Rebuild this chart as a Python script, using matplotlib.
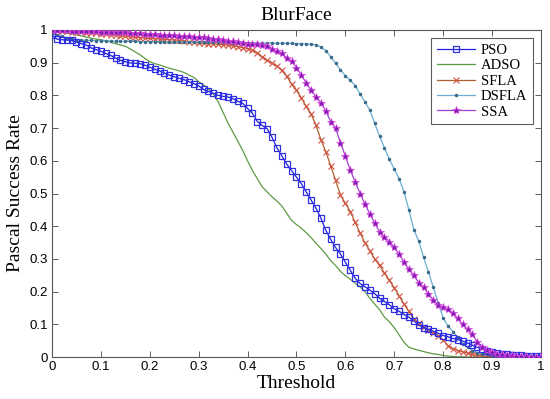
import matplotlib
matplotlib.use("Agg")
import matplotlib.pyplot as plt
import numpy as np

threshold = [round(i * 0.01, 2) for i in range(101)]

pso = [0.985, 0.972, 0.970, 0.969, 0.968, 0.963, 0.958, 0.954, 0.945, 0.940,
       0.935, 0.928, 0.922, 0.914, 0.907, 0.903, 0.899, 0.898, 0.897, 0.892,
       0.886, 0.880, 0.875, 0.868, 0.862, 0.857, 0.852, 0.848, 0.842, 0.836,
       0.829, 0.818, 0.812, 0.806, 0.800, 0.797, 0.795, 0.790, 0.782, 0.776,
       0.760, 0.745, 0.720, 0.708, 0.698, 0.672, 0.640, 0.615, 0.590, 0.570,
       0.550, 0.530, 0.505, 0.480, 0.455, 0.425, 0.388, 0.360, 0.335, 0.315,
       0.290, 0.266, 0.241, 0.225, 0.215, 0.205, 0.194, 0.180, 0.170, 0.160,
       0.148, 0.140, 0.130, 0.122, 0.111, 0.098, 0.090, 0.085, 0.079, 0.073,
       0.066, 0.062, 0.057, 0.053, 0.049, 0.043, 0.036, 0.030, 0.024, 0.019,
       0.015, 0.012, 0.010, 0.008, 0.007, 0.006, 0.005, 0.004, 0.004, 0.003,
       0.003]

adso = [1.000, 0.995, 0.992, 0.990, 0.988, 0.985, 0.982, 0.978, 0.975, 0.972,
        0.970, 0.967, 0.963, 0.958, 0.954, 0.950, 0.942, 0.933, 0.924, 0.913,
        0.903, 0.897, 0.893, 0.888, 0.883, 0.879, 0.875, 0.870, 0.862, 0.855,
        0.842, 0.832, 0.820, 0.805, 0.780, 0.748, 0.715, 0.688, 0.660, 0.632,
        0.600, 0.570, 0.545, 0.520, 0.505, 0.490, 0.477, 0.462, 0.440, 0.418,
        0.405, 0.394, 0.380, 0.365, 0.348, 0.332, 0.315, 0.295, 0.280, 0.262,
        0.249, 0.238, 0.226, 0.215, 0.200, 0.180, 0.162, 0.145, 0.122, 0.108,
        0.090, 0.068, 0.045, 0.030, 0.025, 0.021, 0.017, 0.013, 0.010, 0.008,
        0.005, 0.003, 0.002, 0.001, 0.001, 0.000, 0.000, 0.000, 0.000, 0.000,
        0.000, 0.000, 0.000, 0.000, 0.000, 0.000, 0.000, 0.000, 0.000, 0.000,
        0.000]

sfla = [1.000, 0.998, 0.997, 0.996, 0.995, 0.994, 0.993, 0.992, 0.991, 0.990,
        0.989, 0.988, 0.986, 0.984, 0.982, 0.980, 0.979, 0.977, 0.976, 0.975,
        0.974, 0.973, 0.972, 0.971, 0.970, 0.969, 0.968, 0.966, 0.964, 0.962,
        0.960, 0.959, 0.958, 0.957, 0.956, 0.955, 0.953, 0.951, 0.949, 0.946,
        0.943, 0.939, 0.930, 0.918, 0.907, 0.898, 0.890, 0.876, 0.858, 0.835,
        0.816, 0.792, 0.766, 0.743, 0.708, 0.665, 0.628, 0.585, 0.540, 0.495,
        0.470, 0.445, 0.412, 0.380, 0.350, 0.325, 0.300, 0.280, 0.257, 0.235,
        0.212, 0.187, 0.162, 0.140, 0.117, 0.104, 0.092, 0.082, 0.074, 0.066,
        0.052, 0.035, 0.026, 0.020, 0.016, 0.012, 0.008, 0.005, 0.003, 0.002,
        0.001, 0.000, 0.000, 0.000, 0.000, 0.000, 0.000, 0.000, 0.000, 0.000,
        0.000]

dsfla = [0.990, 0.985, 0.980, 0.975, 0.972, 0.970, 0.969, 0.968, 0.968, 0.967,
         0.967, 0.966, 0.966, 0.966, 0.965, 0.965, 0.965, 0.965, 0.964, 0.964,
         0.964, 0.964, 0.964, 0.964, 0.963, 0.963, 0.963, 0.963, 0.963, 0.963,
         0.963, 0.962, 0.962, 0.962, 0.962, 0.962, 0.962, 0.961, 0.961, 0.961,
         0.961, 0.961, 0.960, 0.960, 0.960, 0.960, 0.959, 0.959, 0.959, 0.959,
         0.958, 0.958, 0.957, 0.957, 0.954, 0.948, 0.937, 0.918, 0.898, 0.878,
         0.860, 0.846, 0.830, 0.805, 0.780, 0.755, 0.715, 0.675, 0.640, 0.605,
         0.575, 0.545, 0.505, 0.450, 0.390, 0.355, 0.305, 0.260, 0.213, 0.165,
         0.120, 0.095, 0.078, 0.060, 0.040, 0.030, 0.020, 0.014, 0.010, 0.008,
         0.006, 0.004, 0.003, 0.002, 0.001, 0.000, 0.000, 0.000, 0.000, 0.000,
         0.000]

ssa = [1.000, 1.000, 0.999, 0.999, 0.998, 0.998, 0.997, 0.997, 0.996, 0.996,
       0.995, 0.995, 0.994, 0.994, 0.993, 0.993, 0.992, 0.991, 0.990, 0.989,
       0.988, 0.987, 0.986, 0.985, 0.984, 0.983, 0.982, 0.981, 0.980, 0.979,
       0.978, 0.977, 0.975, 0.973, 0.971, 0.969, 0.967, 0.965, 0.962, 0.960,
       0.958, 0.957, 0.956, 0.955, 0.952, 0.942, 0.935, 0.928, 0.915, 0.905,
       0.885, 0.862, 0.838, 0.815, 0.795, 0.778, 0.752, 0.720, 0.700, 0.655,
       0.615, 0.572, 0.536, 0.500, 0.468, 0.438, 0.410, 0.383, 0.368, 0.353,
       0.335, 0.315, 0.290, 0.268, 0.250, 0.228, 0.214, 0.192, 0.175, 0.160,
       0.152, 0.146, 0.135, 0.118, 0.100, 0.085, 0.070, 0.045, 0.030, 0.022,
       0.015, 0.011, 0.008, 0.006, 0.005, 0.004, 0.003, 0.002, 0.001, 0.001,
       0.000]

tick_vals = [round(i * 0.1, 1) for i in range(11)]
tick_labels = ["0", "0.1", "0.2", "0.3", "0.4", "0.5", "0.6", "0.7", "0.8", "0.9", "1"]

serif = "Liberation Serif"
sans = "Liberation Sans"

fig = plt.figure(figsize=(5.5, 3.99), dpi=100)
ax = fig.add_axes([0.0945, 0.105, 0.889, 0.820])

ax.plot(threshold, pso, color="#2020e0", lw=0.9, marker="s", ms=4.2,
        mfc="none", mec="#3030e0", mew=0.9, label="PSO", zorder=3)
ax.plot(threshold, adso, color="#5e9a44", lw=0.9, label="ADSO", zorder=2)
ax.plot(threshold, sfla, color="#b0602c", lw=0.9, marker="x", ms=4,
        mec="#d05040", mew=0.8, label="SFLA", zorder=2)
ax.plot(threshold, dsfla, color="#6aaed0", lw=0.9, marker=".", ms=3,
        mfc="#3a6a8a", mec="#3a6a8a", label="DSFLA", zorder=2)
ax.plot(threshold, ssa, color="#a040d0", lw=0.9, marker="*", ms=6,
        mfc="#7a20b0", mec="#e040e0", mew=0.5, label="SSA", zorder=4)

ax.set_xlim(0, 1)
ax.set_ylim(0, 1)
ax.set_xticks(tick_vals)
ax.set_xticklabels(tick_labels, fontfamily=sans, fontsize=9.5)
ax.set_yticks(tick_vals)
ax.set_yticklabels(tick_labels, fontfamily=sans, fontsize=9.5)
ax.tick_params(direction="in", top=True, right=True, length=4, width=0.6,
               color="#444444", pad=3)
for s in ax.spines.values():
    s.set_linewidth(0.8)
    s.set_color("#555555")

ax.set_title("BlurFace", fontfamily=serif, fontsize=14, pad=7)
ax.set_xlabel("Threshold", fontfamily=serif, fontsize=14, labelpad=1)
ax.set_ylabel("Pascal Success Rate", fontfamily=serif, fontsize=14, labelpad=4)

leg = ax.legend(loc="upper right", prop={"family": serif, "size": 10.5},
                frameon=True, fancybox=False, edgecolor="#333333",
                borderaxespad=0.55, handlelength=2.6, labelspacing=0.15,
                borderpad=0.4, handletextpad=0.4)
leg.get_frame().set_linewidth(0.8)

fig.savefig("out.png", dpi=100)
